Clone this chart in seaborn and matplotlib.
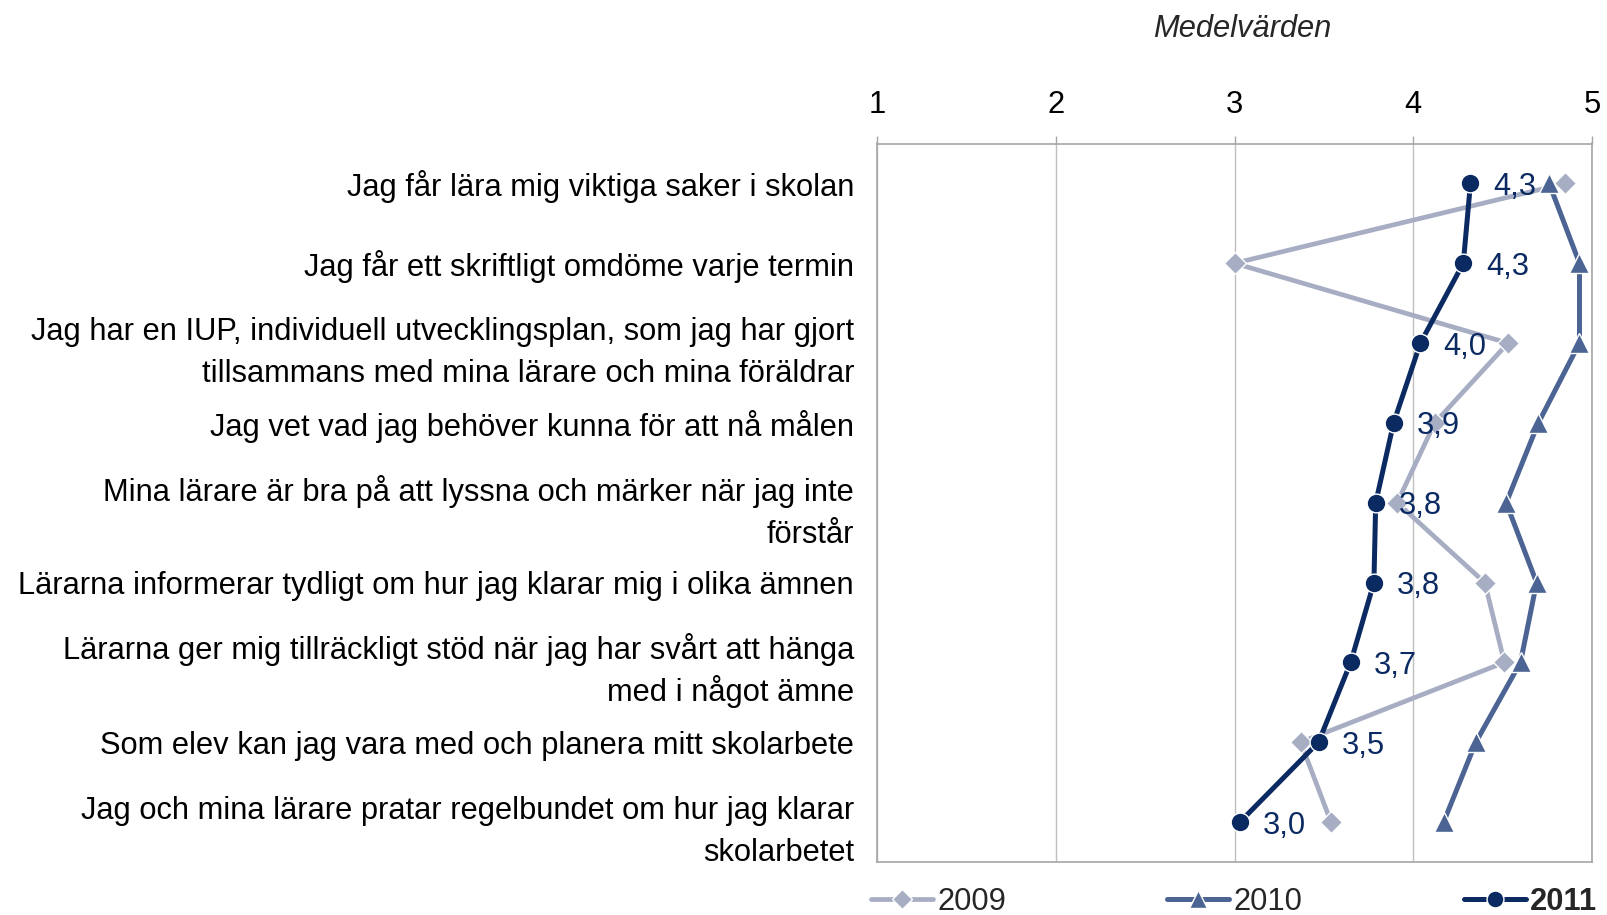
import matplotlib
matplotlib.use("Agg")
import matplotlib.pyplot as plt
import seaborn as sns
import pandas as pd

categories = [
    "Jag får lära mig viktiga saker i skolan",
    "Jag får ett skriftligt omdöme varje termin",
    "Jag har en IUP, individuell utvecklingsplan, som jag har gjort\ntillsammans med mina lärare och mina föräldrar",
    "Jag vet vad jag behöver kunna för att nå målen",
    "Mina lärare är bra på att lyssna och märker när jag inte\nförstår",
    "Lärarna informerar tydligt om hur jag klarar mig i olika ämnen",
    "Lärarna ger mig tillräckligt stöd när jag har svårt att hänga\nmed i något ämne",
    "Som elev kan jag vara med och planera mitt skolarbete",
    "Jag och mina lärare pratar regelbundet om hur jag klarar\nskolarbetet",
]
values_2009 = [4.85, 3.00, 4.53, 4.12, 3.91, 4.40, 4.51, 3.37, 3.54]
values_2010 = [4.76, 4.93, 4.93, 4.70, 4.52, 4.69, 4.60, 4.35, 4.17]
values_2011 = [4.32, 4.28, 4.04, 3.89, 3.79, 3.78, 3.65, 3.47, 3.03]
labels_2011 = ["4,3", "4,3", "4,0", "3,9", "3,8", "3,8", "3,7", "3,5", "3,0"]
x_ticks = [1, 2, 3, 4, 5]
series_names = ["2009", "2010", "2011"]

sns.set_theme(style="white")
plt.rcParams["font.family"] = ["Liberation Sans", "DejaVu Sans"]

W, H = 1607, 915
fig = plt.figure(figsize=(W / 100, H / 100), dpi=100)
L, R, T, B = 877, 1592, 143.5, 862
ax = fig.add_axes([L / W, 1 - B / H, (R - L) / W, (B - T) / H])

FS = 22.2
colors = {"2009": "#A7AEC3", "2010": "#4B6493", "2011": "#0B2A62"}
markers = {"2009": "D", "2010": "^", "2011": "o"}
msizes = {"2009": 11.0, "2010": 14.5, "2011": 13.5}
lws = {"2009": 3.4, "2010": 3.6, "2011": 3.6}

pos = list(range(len(categories)))
all_vals = {"2009": values_2009, "2010": values_2010, "2011": values_2011}
handles = {}
for name in series_names:
    df = pd.DataFrame({"value": all_vals[name], "pos": pos})
    sns.lineplot(data=df, x="value", y="pos", sort=False, estimator=None,
                 orient="y", color=colors[name], marker=markers[name],
                 markersize=msizes[name], markeredgecolor="white",
                 markeredgewidth=1.0, linewidth=lws[name], ax=ax, label=name,
                 legend=False)
    handles[name] = ax.lines[-1]

for v, p, t in zip(values_2011, pos, labels_2011):
    ax.annotate(t, (v, p), xytext=(16.5, 0), textcoords="offset points",
                ha="left", va="center_baseline", fontsize=FS,
                color=colors["2011"])

ax.set_xlim(1, 5)
ax.set_ylim(len(categories) - 0.5, -0.5)
ax.set_xticks(x_ticks)
ax.set_xticklabels([str(t) for t in x_ticks], fontsize=FS, color="black")
ax.xaxis.tick_top()
ax.tick_params(axis="x", which="major", top=True, bottom=False, length=5.8,
               width=1, color="#A6A6A6", pad=11)
ax.set_yticks(pos)
ax.set_yticklabels(categories, fontsize=FS, color="black", ha="right")
ax.tick_params(axis="y", length=0, pad=16.5)
ax.set_xlabel("")
ax.set_ylabel("")
ax.grid(axis="x", color="#BFBFBF", linewidth=1)
ax.grid(axis="y", visible=False)
for s in ax.spines.values():
    s.set_color("#A6A6A6")
    s.set_linewidth(1.2)

# uniform baseline gap (42 px) for the wrapped category labels
renderer = fig.canvas.get_renderer()
LINE_GAP = 42.0
for lab in ax.get_yticklabels():
    txt = lab.get_text()
    if "\n" in txt:
        fp = lab.get_fontproperties()
        _, lp_h, lp_d = renderer.get_text_width_height_descent("lp", fp, ismath=False)
        first, second = txt.split("\n")[:2]
        _, h1, d1 = renderer.get_text_width_height_descent(first, fp, ismath=False)
        _, h2, d2 = renderer.get_text_width_height_descent(second, fp, ismath=False)
        d1 = max(d1, lp_d)
        eff = max(h2, lp_h) - max(d2, lp_d)
        lab.set_linespacing((LINE_GAP - d1) / max(eff, lp_h - lp_d))

fig.text(1242 / W, 1 - 29 / H, "Medelvärden", fontsize=FS, style="italic",
         ha="center", va="center")

leg_x = {"2009": 871, "2010": 1167, "2011": 1464}
for name in series_names:
    lg = fig.legend([handles[name]], [name], loc="center left",
                    bbox_to_anchor=(leg_x[name] / W, 1 - 902 / H),
                    frameon=False, fontsize=FS, handlelength=2.0,
                    handletextpad=0.15, borderpad=0, borderaxespad=0,
                    markerscale=0.9)
    if name == "2011":
        lg.get_texts()[0].set_fontweight("bold")

fig.savefig("out.png", dpi=100)
